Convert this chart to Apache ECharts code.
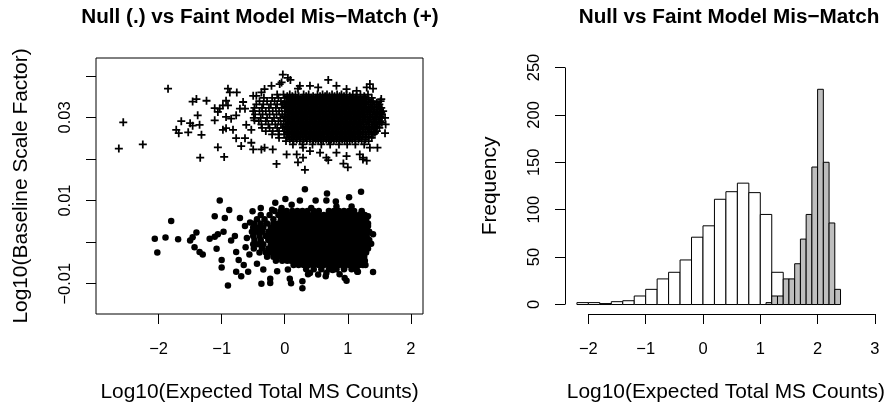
<!DOCTYPE html>
<html>
<head>
<meta charset="utf-8">
<script src="https://cdn.jsdelivr.net/npm/echarts@6/dist/echarts.min.js"></script>
<style>
  html, body { margin: 0; padding: 0; background: #fff; }
  #main { width: 888px; height: 408px; }
</style>
</head>
<body>
<div id="main"></div>
<script>
// left panel: scattered points, [log10 counts, log10 scale factor]
const nullOutliers = [
  [-2.06, 0.0008], [-2.02, -0.0025], [-1.89, 0.0011], [-1.80, 0.0051], [-1.69, 0.0007],
  [-1.50, 0.0004], [-1.46, 0.0012], [-1.40, 0.0023], [-1.43, -0.0012], [-1.35, -0.0024],
  [-1.30, -0.0030], [-1.19, 0.0008], [-1.11, 0.0013], [-1.06, 0.0019], [-1.08, -0.0016],
  [-1.00, -0.0043], [-1.00, -0.0061], [-1.11, 0.0062], [-1.03, 0.0100], [-0.95, 0.0058],
  [-0.88, 0.0077], [-0.97, 0.0025], [-0.85, 0.0004], [-0.79, 0.0015], [-0.90, -0.0104],
  [-0.77, -0.0024], [-0.73, -0.0043], [-0.65, -0.0055], [-0.58, -0.0071], [-0.69, -0.0082],
  [-0.77, -0.0071], [-0.71, 0.0058], [-0.63, 0.0039], [-0.55, 0.0047], [-0.51, 0.0074],
  [-0.38, 0.0082], [-0.20, 0.0078], [-0.37, -0.0100], [-0.23, -0.0088], [-0.23, -0.0098],
  [0.08, -0.0088], [0.10, -0.0099], [0.28, -0.0094], [0.28, -0.0111], [0.65, -0.0082],
  [0.95, -0.0086], [0.98, -0.0093], [1.16, -0.0071], [1.40, -0.0072], [0.53, -0.0078],
  [0.37, -0.0077], [0.32, 0.0127], [0.67, 0.0117], [1.21, 0.0121], [1.02, 0.0108],
  [0.66, 0.0100], [0.49, 0.0100], [0.24, 0.0100], [0.01, 0.0104], [-0.15, 0.0095],
  [0.81, 0.0098], [0.82, 0.0086], [0.42, 0.0082], [0.11, 0.0090], [-0.05, 0.0082],
  [1.06, 0.0086], [1.22, 0.0070], [1.32, 0.0062], [1.40, 0.0019], [1.37, -0.0004],
  [1.32, 0.0039], [1.28, -0.0055], [1.15, -0.0071], [0.94, -0.0063], [0.40, -0.0074],
  [0.66, -0.0074], [0.76, -0.0067], [0.87, -0.0077], [-0.60, 0.0010], [-0.62, -0.0012],
  [-0.56, -0.0030], [-0.44, -0.0052], [-0.34, -0.0066], [-0.12, -0.0070], [0.05, -0.0066]
];
// dense core of the null cloud, one row per level: [scale factor, [counts...]]
const nullCoreRows = [
  [0.0075, [-0.16, -0.06, 0.03, 0.12, 0.2, 0.28, 0.36, 0.46, 0.54, 0.7, 0.78, 0.86, 0.94, 1.02, 1.1, 1.22]],
  [0.0065, [-0.38, -0.24, -0.1, -0.02, 0.06, 0.14, 0.22, 0.3, 0.38, 0.46, 0.54, 0.62, 0.7, 0.78, 0.86, 0.94, 1.02, 1.1, 1.18, 1.27]],
  [0.0055, [-0.44, -0.32, -0.18, -0.06, 0.02, 0.1, 0.18, 0.26, 0.34, 0.42, 0.5, 0.58, 0.66, 0.74, 0.82, 0.9, 0.98, 1.06, 1.14, 1.22, 1.29]],
  [0.0045, [-0.48, -0.38, -0.28, -0.18, -0.1, -0.02, 0.06, 0.14, 0.22, 0.3, 0.38, 0.46, 0.54, 0.62, 0.7, 0.78, 0.86, 0.94, 1.02, 1.1, 1.18, 1.26, 1.32]],
  [0.0035, [-0.5, -0.42, -0.34, -0.22, -0.14, -0.06, 0.02, 0.1, 0.18, 0.26, 0.34, 0.42, 0.5, 0.58, 0.66, 0.74, 0.82, 0.9, 0.98, 1.06, 1.14, 1.22, 1.3]],
  [0.0025, [-0.52, -0.44, -0.36, -0.26, -0.18, -0.1, -0.02, 0.06, 0.14, 0.22, 0.3, 0.38, 0.46, 0.54, 0.62, 0.7, 0.78, 0.86, 0.94, 1.02, 1.1, 1.18, 1.26, 1.34]],
  [0.0015, [-0.5, -0.4, -0.3, -0.22, -0.14, -0.06, 0.02, 0.1, 0.18, 0.26, 0.34, 0.42, 0.5, 0.58, 0.66, 0.74, 0.82, 0.9, 0.98, 1.06, 1.14, 1.22, 1.3]],
  [0.0005, [-0.48, -0.38, -0.26, -0.18, -0.1, -0.02, 0.06, 0.14, 0.22, 0.3, 0.38, 0.46, 0.54, 0.62, 0.7, 0.78, 0.86, 0.94, 1.02, 1.1, 1.18, 1.26, 1.34]],
  [-0.0005, [-0.5, -0.42, -0.34, -0.22, -0.14, -0.06, 0.02, 0.1, 0.18, 0.26, 0.34, 0.42, 0.5, 0.58, 0.66, 0.74, 0.82, 0.9, 0.98, 1.06, 1.14, 1.22, 1.3]],
  [-0.0015, [-0.49, -0.36, -0.26, -0.18, -0.1, -0.02, 0.06, 0.14, 0.22, 0.3, 0.38, 0.46, 0.54, 0.62, 0.7, 0.78, 0.86, 0.94, 1.02, 1.1, 1.18, 1.26, 1.32]],
  [-0.0025, [-0.4, -0.3, -0.22, -0.14, -0.06, 0.02, 0.1, 0.18, 0.26, 0.34, 0.42, 0.5, 0.58, 0.66, 0.74, 0.82, 0.9, 0.98, 1.06, 1.14, 1.22, 1.29]],
  [-0.0035, [-0.28, -0.18, -0.1, -0.02, 0.06, 0.14, 0.22, 0.3, 0.38, 0.46, 0.54, 0.62, 0.7, 0.78, 0.86, 0.94, 1.02, 1.1, 1.18, 1.26]],
  [-0.0045, [-0.14, -0.04, 0.04, 0.1, 0.18, 0.26, 0.34, 0.42, 0.5, 0.58, 0.66, 0.74, 0.82, 0.9, 0.98, 1.06, 1.14, 1.22, 1.27]],
  [-0.0055, [0.14, 0.22, 0.3, 0.38, 0.46, 0.54, 0.62, 0.7, 0.78, 0.86, 0.94, 1.02, 1.1, 1.18, 1.24]],
  [-0.0065, [0.34, 0.46, 0.58, 0.7, 0.82, 0.94, 1.06, 1.14]]
];
const mismatchOutliers = [
  [-2.63, 0.0225], [-2.56, 0.0288], [-2.25, 0.0235], [-1.85, 0.0369], [-1.46, 0.0338],
  [-1.40, 0.0344], [-1.24, 0.0340], [-1.72, 0.0270], [-1.64, 0.0291], [-1.68, 0.0262],
  [-1.53, 0.0264], [-1.50, 0.0286], [-1.46, 0.0280], [-1.35, 0.0282], [-1.32, 0.0258],
  [-1.38, 0.0305], [-1.34, 0.0203], [-1.06, 0.0228], [-0.96, 0.0205], [-1.11, 0.0322],
  [-1.06, 0.0313], [-0.98, 0.0329], [-0.93, 0.0340], [-0.90, 0.0369], [-0.87, 0.0360],
  [-0.76, 0.0360], [-0.13, 0.0188], [0.21, 0.0192], [0.29, 0.0203], [0.32, 0.0174],
  [0.69, 0.0197], [0.93, 0.0189], [1.00, 0.0180], [1.24, 0.0203], [1.30, 0.0196],
  [-0.03, 0.0403], [0.05, 0.0395], [0.09, 0.0390], [0.69, 0.0390], [0.82, 0.0376],
  [0.40, 0.0376], [0.21, 0.0369], [1.35, 0.0380], [1.40, 0.0369], [1.53, 0.0344],
  [1.59, 0.0262], [1.47, 0.0227], [-0.21, 0.0376], [-0.08, 0.0380], [-0.37, 0.0360],
  [-0.50, 0.0352], [-1.11, 0.0293], [-1.03, 0.0321], [-0.90, 0.0329], [-0.93, 0.0301],
  [-0.85, 0.0297], [-0.77, 0.0305], [-0.71, 0.0321], [-0.66, 0.0337], [-0.63, 0.0321],
  [-0.93, 0.0274], [-0.98, 0.0270], [-0.82, 0.0270], [-0.77, 0.0250], [-0.69, 0.0231],
  [-0.63, 0.0250], [-0.53, 0.0239], [-0.50, 0.0223], [-0.37, 0.0223], [-0.32, 0.0227],
  [-0.19, 0.0223], [-0.61, 0.0282], [-0.53, 0.0270], [-0.48, 0.0293], [-0.45, 0.0352],
  [-0.32, 0.0368], [-0.05, 0.0384], [0.24, 0.0376], [0.53, 0.0372], [0.98, 0.0368],
  [1.14, 0.0364], [1.30, 0.0372], [0.03, 0.0211], [0.19, 0.0211], [0.40, 0.0219],
  [0.56, 0.0215], [0.66, 0.0203], [0.82, 0.0215], [0.98, 0.0207], [1.19, 0.0211],
  [1.24, 0.0199], [1.35, 0.0227], [0.29, 0.0227]
];
const mismatchCoreRows = [
  [0.0355, [-0.12, -0.02, 0.08, 0.17, 0.3, 0.38, 0.52, 0.6, 0.67, 0.75, 0.83, 0.9, 0.98, 1.08, 1.2, 1.32]],
  [0.0351, [0.04, 0.12, 0.22, 0.34, 0.45, 0.56, 0.64, 0.71, 0.79, 0.87, 0.94, 1.03, 1.14, 1.26]],
  [0.0347, [-0.33, -0.2, -0.1, 0.0, 0.07, 0.14, 0.21, 0.28, 0.35, 0.42, 0.49, 0.56, 0.63, 0.7, 0.77, 0.84, 0.91, 0.98, 1.05, 1.12, 1.2, 1.28, 1.38]],
  [0.0343, [0.1, 0.18, 0.25, 0.32, 0.39, 0.46, 0.53, 0.6, 0.67, 0.74, 0.81, 0.88, 0.95, 1.02, 1.09, 1.16, 1.24, 1.33]],
  [0.0339, [-0.4, -0.28, -0.16, -0.06, 0.03, 0.1, 0.17, 0.24, 0.31, 0.38, 0.45, 0.52, 0.59, 0.66, 0.73, 0.8, 0.87, 0.94, 1.01, 1.08, 1.15, 1.22, 1.3, 1.4, 1.52]],
  [0.0335, [0.0, 0.07, 0.14, 0.21, 0.28, 0.35, 0.42, 0.49, 0.56, 0.63, 0.7, 0.77, 0.84, 0.91, 0.98, 1.05, 1.12, 1.19, 1.27, 1.36, 1.46]],
  [0.0331, [-0.45, -0.34, -0.22, -0.12, -0.03, 0.06, 0.13, 0.2, 0.27, 0.34, 0.41, 0.48, 0.55, 0.62, 0.69, 0.76, 0.83, 0.9, 0.97, 1.04, 1.11, 1.18, 1.25, 1.33, 1.42, 1.5]],
  [0.0327, [0.01, 0.09, 0.16, 0.23, 0.3, 0.37, 0.44, 0.51, 0.58, 0.65, 0.72, 0.79, 0.86, 0.93, 1.0, 1.07, 1.14, 1.21, 1.29, 1.39, 1.49]],
  [0.0323, [-0.48, -0.36, -0.25, -0.14, -0.05, 0.03, 0.1, 0.17, 0.24, 0.31, 0.38, 0.45, 0.52, 0.59, 0.66, 0.73, 0.8, 0.87, 0.94, 1.01, 1.08, 1.15, 1.22, 1.29, 1.37, 1.46, 1.53]],
  [0.0319, [0.05, 0.12, 0.19, 0.26, 0.33, 0.4, 0.47, 0.54, 0.61, 0.68, 0.75, 0.82, 0.89, 0.96, 1.03, 1.1, 1.17, 1.24, 1.32, 1.41, 1.5]],
  [0.0315, [-0.5, -0.4, -0.3, -0.19, -0.09, 0.0, 0.07, 0.14, 0.21, 0.28, 0.35, 0.42, 0.49, 0.56, 0.63, 0.7, 0.77, 0.84, 0.91, 0.98, 1.05, 1.12, 1.19, 1.26, 1.34, 1.42, 1.5, 1.56]],
  [0.0311, [0.06, 0.13, 0.2, 0.27, 0.34, 0.41, 0.48, 0.55, 0.62, 0.69, 0.76, 0.83, 0.9, 0.97, 1.04, 1.11, 1.18, 1.26, 1.35, 1.45, 1.53]],
  [0.0307, [-0.47, -0.35, -0.24, -0.13, -0.04, 0.04, 0.11, 0.18, 0.25, 0.32, 0.39, 0.46, 0.53, 0.6, 0.67, 0.74, 0.81, 0.88, 0.95, 1.02, 1.09, 1.16, 1.23, 1.31, 1.39, 1.47, 1.54]],
  [0.0303, [0.0, 0.08, 0.15, 0.22, 0.29, 0.36, 0.43, 0.5, 0.57, 0.64, 0.71, 0.78, 0.85, 0.92, 0.99, 1.06, 1.13, 1.2, 1.27, 1.35, 1.43, 1.51]],
  [0.0299, [-0.49, -0.38, -0.28, -0.17, -0.07, 0.01, 0.08, 0.15, 0.22, 0.29, 0.36, 0.43, 0.5, 0.57, 0.64, 0.71, 0.78, 0.85, 0.92, 0.99, 1.06, 1.13, 1.2, 1.28, 1.36, 1.45, 1.52, 1.59]],
  [0.0295, [0.05, 0.12, 0.19, 0.26, 0.33, 0.4, 0.47, 0.54, 0.61, 0.68, 0.75, 0.82, 0.89, 0.96, 1.03, 1.1, 1.17, 1.24, 1.32, 1.4, 1.49]],
  [0.0291, [-0.41, -0.3, -0.2, -0.1, -0.02, 0.05, 0.12, 0.19, 0.26, 0.33, 0.4, 0.47, 0.54, 0.61, 0.68, 0.75, 0.82, 0.89, 0.96, 1.03, 1.1, 1.17, 1.24, 1.32, 1.41, 1.51]],
  [0.0287, [0.06, 0.13, 0.2, 0.27, 0.34, 0.41, 0.48, 0.55, 0.62, 0.69, 0.76, 0.83, 0.9, 0.97, 1.04, 1.11, 1.18, 1.25, 1.34, 1.43, 1.54]],
  [0.0283, [-0.37, -0.26, -0.15, -0.06, 0.02, 0.09, 0.16, 0.23, 0.3, 0.37, 0.44, 0.51, 0.58, 0.65, 0.72, 0.79, 0.86, 0.93, 1.0, 1.07, 1.14, 1.21, 1.29, 1.38, 1.47, 1.6]],
  [0.0279, [0.01, 0.09, 0.16, 0.23, 0.3, 0.37, 0.44, 0.51, 0.58, 0.65, 0.72, 0.79, 0.86, 0.93, 1.0, 1.07, 1.14, 1.21, 1.3, 1.39, 1.46]],
  [0.0275, [-0.36, -0.24, -0.12, -0.03, 0.05, 0.12, 0.19, 0.26, 0.33, 0.4, 0.47, 0.54, 0.61, 0.68, 0.75, 0.82, 0.89, 0.96, 1.03, 1.1, 1.17, 1.25, 1.34, 1.43, 1.5]],
  [0.0271, [0.04, 0.12, 0.19, 0.26, 0.33, 0.4, 0.47, 0.54, 0.61, 0.68, 0.75, 0.82, 0.89, 0.96, 1.03, 1.1, 1.17, 1.24, 1.32, 1.41]],
  [0.0267, [-0.3, -0.19, -0.09, 0.0, 0.08, 0.15, 0.22, 0.29, 0.36, 0.43, 0.5, 0.57, 0.64, 0.71, 0.78, 0.85, 0.92, 0.99, 1.06, 1.13, 1.2, 1.28, 1.37, 1.46]],
  [0.0263, [0.04, 0.11, 0.18, 0.25, 0.32, 0.39, 0.46, 0.53, 0.6, 0.67, 0.74, 0.81, 0.88, 0.95, 1.02, 1.09, 1.16, 1.24, 1.33, 1.43]],
  [0.0259, [-0.2, -0.1, -0.01, 0.07, 0.14, 0.21, 0.28, 0.35, 0.42, 0.49, 0.56, 0.63, 0.7, 0.77, 0.84, 0.91, 0.98, 1.05, 1.12, 1.2, 1.29, 1.4]],
  [0.0255, [0.07, 0.15, 0.22, 0.29, 0.37, 0.44, 0.51, 0.58, 0.66, 0.73, 0.8, 0.87, 0.94, 1.01, 1.08, 1.15, 1.23, 1.33]],
  [0.0251, [-0.09, 0.03, 0.11, 0.18, 0.25, 0.33, 0.4, 0.47, 0.54, 0.62, 0.69, 0.76, 0.83, 0.9, 0.97, 1.04, 1.11, 1.19, 1.28, 1.38]],
  [0.0247, [0.08, 0.19, 0.3, 0.4, 0.49, 0.57, 0.66, 0.74, 0.82, 0.91, 0.99, 1.07, 1.17, 1.28]],
  [0.0243, [0.02, 0.14, 0.24, 0.35, 0.45, 0.53, 0.61, 0.7, 0.78, 0.87, 0.95, 1.03, 1.12, 1.22, 1.33]],
  [0.0235, [0.13, 0.28, 0.44, 0.58, 0.72, 0.86, 0.99, 1.12, 1.26]]
];

// right panel: histogram bins
const nullBreaks = [-2.2, -2.0, -1.8, -1.6, -1.4, -1.2, -1.0, -0.8, -0.6, -0.4, -0.2, 0.0, 0.2, 0.4, 0.6, 0.8, 1.0, 1.2, 1.4];
const nullCounts = [2, 2, 1, 3, 4, 9, 16, 27, 34, 47, 71, 83, 111, 119, 128, 118, 95, 34];
const mismatchBreaks = [1.1, 1.2, 1.3, 1.4, 1.5, 1.6, 1.7, 1.8, 1.9, 2.0, 2.1, 2.2, 2.3, 2.4];
const mismatchCounts = [2, 9, 9, 27, 27, 43, 69, 95, 145, 227, 150, 86, 16];

// ticks and labels
const scatterXTicks = [-2, -1, 0, 1, 2];
const scatterYTicks = [-0.01, 0, 0.01, 0.02, 0.03, 0.04];
const scatterYLabels = [-0.01, 0.01, 0.03];
const histXTicks = [-2, -1, 0, 1, 2, 3];
const histYTicks = [0, 50, 100, 150, 200, 250];

const FONT = '"Liberation Sans", Arial, Helvetica, sans-serif';
const minus = s => String(s).replace('-', '\u2212');

const rowsToPoints = rows => rows.flatMap(([y, xs]) => xs.map(x => [x, y]));
const nullPoints = nullOutliers.concat(rowsToPoints(nullCoreRows));
const mismatchPoints = mismatchOutliers.concat(rowsToPoints(mismatchCoreRows));

const binData = (breaks, counts) => counts.map((c, i) => [breaks[i], breaks[i + 1], c]);

const renderBin = fill => (params, api) => {
  const topLeft = api.coord([api.value(0), api.value(2)]);
  const bottomRight = api.coord([api.value(1), 0]);
  return {
    type: 'rect',
    shape: {
      x: topLeft[0],
      y: topLeft[1],
      width: bottomRight[0] - topLeft[0],
      height: bottomRight[1] - topLeft[1]
    },
    style: { fill: fill, stroke: '#000', lineWidth: 1 }
  };
};

const PLUS = 'path://M-1,-0.22L-0.22,-0.22L-0.22,-1L0.22,-1L0.22,-0.22L1,-0.22L1,0.22L0.22,0.22L0.22,1L-0.22,1L-0.22,0.22L-1,0.22Z';

const tickStyle = { color: '#000', width: 1 };
const labelText = { color: '#000', fontFamily: FONT, fontSize: 16.5 };
const nameText = { color: '#000', fontFamily: FONT, fontSize: 20.9 };
const titleText = { color: '#000', fontFamily: FONT, fontSize: 20.7, fontWeight: 'bold' };

const chart = echarts.init(document.getElementById('main'));

const option = {
  animation: false,
  backgroundColor: '#fff',
  title: [
    { text: 'Null (.) vs Faint Model Mis\u2212Match (+)', left: 255, top: 2, textAlign: 'center', textStyle: titleText },
    { text: 'Null vs Faint Model Mis\u2212Match', left: 724, top: 2, textAlign: 'center', textStyle: titleText }
  ],
  grid: [
    { left: 96, top: 58, width: 327, height: 262, show: true, borderColor: '#000', borderWidth: 1, backgroundColor: 'transparent' },
    { left: 565, top: 58, width: 328, height: 262 }
  ],
  xAxis: [
    {
      gridIndex: 0, type: 'value', min: -2.992, max: 2.192,
      axisLine: { show: false, onZero: false }, splitLine: { show: false },
      axisTick: { show: true, customValues: scatterXTicks, length: 10, lineStyle: tickStyle },
      axisLabel: { customValues: scatterXTicks, formatter: v => minus(v), margin: 27, ...labelText },
      name: 'Log10(Expected Total MS Counts)', nameLocation: 'middle', nameGap: 68, nameTextStyle: nameText
    },
    {
      gridIndex: 1, type: 'value', min: -2.408, max: 3.208,
      axisLine: { show: false, onZero: false }, splitLine: { show: false },
      axisTick: { show: true, customValues: histXTicks, length: 10, lineStyle: tickStyle },
      axisLabel: { customValues: histXTicks, formatter: v => minus(v), margin: 27, ...labelText },
      name: 'Log10(Expected Total MS Counts)', nameLocation: 'middle', nameGap: 68, nameTextStyle: nameText
    }
  ],
  yAxis: [
    {
      gridIndex: 0, type: 'value', min: -0.01728, max: 0.04428,
      axisLine: { show: false, onZero: false }, splitLine: { show: false },
      axisTick: { show: true, customValues: scatterYTicks, length: 10, lineStyle: tickStyle },
      axisLabel: { customValues: scatterYLabels, rotate: 90, formatter: v => minus(v.toFixed(2)), margin: 22, ...labelText },
      name: 'Log10(Baseline Scale Factor)', nameLocation: 'middle', nameGap: 64, nameTextStyle: nameText
    },
    {
      gridIndex: 1, type: 'value', min: -10, max: 260,
      axisLine: { show: false, onZero: false }, splitLine: { show: false },
      axisTick: { show: true, customValues: histYTicks, length: 10, lineStyle: tickStyle },
      axisLabel: { customValues: histYTicks, rotate: 90, margin: 22, ...labelText },
      name: 'Frequency', nameLocation: 'middle', nameGap: 64, nameTextStyle: nameText
    }
  ],
  series: [
    {
      type: 'scatter', xAxisIndex: 0, yAxisIndex: 0,
      data: nullPoints, symbol: 'circle', symbolSize: 6.5,
      itemStyle: { color: '#000', opacity: 1 }, silent: true
    },
    {
      type: 'scatter', xAxisIndex: 0, yAxisIndex: 0,
      data: mismatchPoints, symbol: PLUS, symbolSize: 8,
      itemStyle: { color: '#000', opacity: 1 }, silent: true
    },
    {
      type: 'custom', xAxisIndex: 1, yAxisIndex: 1,
      data: binData(nullBreaks, nullCounts), renderItem: renderBin('#fff'), silent: true
    },
    {
      type: 'custom', xAxisIndex: 1, yAxisIndex: 1,
      data: binData(mismatchBreaks, mismatchCounts), renderItem: renderBin('#bebebe'), silent: true
    },
    {
      // R draws hist axis lines only between the first and last tick
      type: 'line', xAxisIndex: 1, yAxisIndex: 1, data: [], silent: true,
      markLine: {
        silent: true, symbol: 'none', label: { show: false },
        lineStyle: { color: '#000', width: 1, type: 'solid' },
        data: [
          [{ coord: [histXTicks[0], -10] }, { coord: [histXTicks[histXTicks.length - 1], -10] }],
          [{ coord: [-2.408, histYTicks[0]] }, { coord: [-2.408, histYTicks[histYTicks.length - 1]] }]
        ]
      }
    }
  ]
};

chart.setOption(option);
</script>
</body>
</html>
